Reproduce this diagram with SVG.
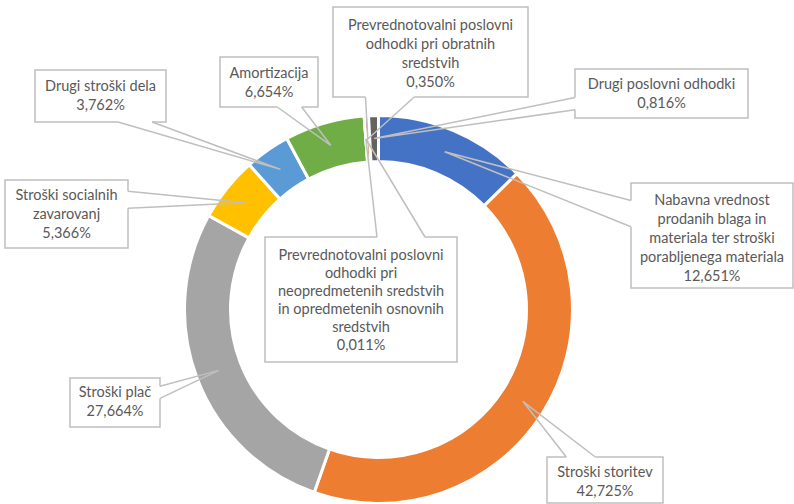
<svg xmlns="http://www.w3.org/2000/svg" width="794" height="504" viewBox="0 0 794 504">
<style>
.sl{stroke:#FFFFFF;stroke-width:3;stroke-linejoin:miter}
.bg{fill:#FFFFFF;stroke:none}
.co{fill:none;stroke:#BFBFBF;stroke-width:1.5;stroke-linejoin:miter}
.t{font-family:Lato,"Liberation Sans",sans-serif;font-size:14.5px;fill:#595959;text-anchor:middle}
</style>
<rect width="794" height="504" fill="#FFFFFF"/>
<g id="donut">
<path id="s-nabavna" class="sl" fill="#4472C4" d="M378.5,115.5 A194,194 0 0 1 516.96,173.62 L484.13,205.84 A148,148 0 0 0 378.5,161.5 Z"/>
<path id="s-storitev" class="sl" fill="#ED7D31" d="M516.96,173.62 A194,194 0 0 1 314.21,492.54 L329.45,449.14 A148,148 0 0 0 484.13,205.84 Z"/>
<path id="s-plac" class="sl" fill="#A5A5A5" d="M314.21,492.54 A194,194 0 0 1 208.73,215.61 L248.99,237.87 A148,148 0 0 0 329.45,449.14 Z"/>
<path id="s-socialnih" class="sl" fill="#FFC000" d="M208.73,215.61 A194,194 0 0 1 249.35,164.74 L279.97,199.06 A148,148 0 0 0 248.99,237.87 Z"/>
<path id="s-drugi-dela" class="sl" fill="#5B9BD5" d="M249.35,164.74 A194,194 0 0 1 286.84,138.52 L308.57,179.06 A148,148 0 0 0 279.97,199.06 Z"/>
<path id="s-amortizacija" class="sl" fill="#70AD47" d="M286.84,138.52 A194,194 0 0 1 364.15,116.03 L367.56,161.91 A148,148 0 0 0 308.57,179.06 Z"/>
<path id="s-neopredmetenih" class="sl" fill="#264478" d="M364.15,116.03 A194,194 0 0 1 364.29,116.02 L367.66,161.9 A148,148 0 0 0 367.56,161.91 Z"/>
<path id="s-obratnih" class="sl" fill="#9E480E" d="M364.29,116.02 A194,194 0 0 1 368.55,115.76 L370.91,161.7 A148,148 0 0 0 367.66,161.9 Z"/>
<path id="s-drugi-poslovni" class="sl" fill="#636363" d="M368.55,115.76 A194,194 0 0 1 378.49,115.5 L378.49,161.5 A148,148 0 0 0 370.91,161.7 Z"/>
</g>
<g id="connectors">
<path class="co" d="M414.25,97 L367.8,139 L365.5,97"/>
<path class="co" d="M575,109.8 L374.1,138.5 L575,97.6"/>
<path class="co" d="M301.7,107 L330.7,145.3 L277.2,107"/>
<path class="co" d="M152,122 L280.5,169.4 L118,122"/>
<path class="co" d="M128,191.3 L244.9,202.8 L128,208.3"/>
<path class="co" d="M377,237 L365.9,139 L425,237"/>
<path class="co" d="M631,226.75 L444.7,151.8 L631,200.5"/>
<path class="co" d="M566.3,457 L522.8,401.3 L595.3,457"/>
<path class="co" d="M160,386.2 L218.7,370.4 L160,398.4"/>
</g>
<g id="label-obratnih">
<path class="co" d="M365.5,97 H333 V7 H528 V97 H414.25"/>
<text class="t" x="430.5" y="30">Prevrednotovalni poslovni</text>
<text class="t" x="430.5" y="49">odhodki pri obratnih</text>
<text class="t" x="430.5" y="68">sredstvih</text>
<text class="t" x="430.5" y="87">0,350%</text>
</g>
<g id="label-drugi-poslovni">
<path class="co" d="M575,97.6 V69 H748 V118 H575 V109.8"/>
<text class="t" x="661.5" y="89">Drugi poslovni odhodki</text>
<text class="t" x="661.5" y="108">0,816%</text>
</g>
<g id="label-amortizacija">
<path class="co" d="M277.2,107 H220 V57 H318 V107 H301.7"/>
<text class="t" x="269" y="78">Amortizacija</text>
<text class="t" x="269" y="97">6,654%</text>
</g>
<g id="label-drugi-dela">
<path class="co" d="M118,122 H35 V70 H166 V122 H152"/>
<text class="t" x="100.5" y="91">Drugi stroški dela</text>
<text class="t" x="100.5" y="110">3,762%</text>
</g>
<g id="label-socialnih">
<path class="co" d="M128,191.3 V180 H5 V248 H128 V208.3"/>
<text class="t" x="66.5" y="200">Stroški socialnih</text>
<text class="t" x="66.5" y="219">zavarovanj</text>
<text class="t" x="66.5" y="238">5,366%</text>
</g>
<g id="label-neopredmetenih">
<path class="co" d="M377,237 H265 V362 H457 V237 H425"/>
<text class="t" x="361" y="259.5">Prevrednotovalni poslovni</text>
<text class="t" x="361" y="277.5">odhodki pri</text>
<text class="t" x="361" y="295.5">neopredmetenih sredstvih</text>
<text class="t" x="361" y="313.5">in opredmetenih osnovnih</text>
<text class="t" x="361" y="331.5">sredstvih</text>
<text class="t" x="361" y="349.5">0,011%</text>
</g>
<g id="label-nabavna">
<path class="co" d="M631,200.5 V183 H793 V288 H631 V226.75"/>
<text class="t" x="712" y="205">Nabavna vrednost</text>
<text class="t" x="712" y="224">prodanih blaga in</text>
<text class="t" x="712" y="243">materiala ter stroški</text>
<text class="t" x="712" y="262">porabljenega materiala</text>
<text class="t" x="712" y="281">12,651%</text>
</g>
<g id="label-storitev">
<path class="co" d="M566.3,457 H547 V503 H663 V457 H595.3"/>
<text class="t" x="605" y="477">Stroški storitev</text>
<text class="t" x="605" y="496">42,725%</text>
</g>
<g id="label-plac">
<path class="co" d="M160,386.2 V378 H70 V427 H160 V398.4"/>
<text class="t" x="115" y="397">Stroški plač</text>
<text class="t" x="115" y="416">27,664%</text>
</g>
</svg>
